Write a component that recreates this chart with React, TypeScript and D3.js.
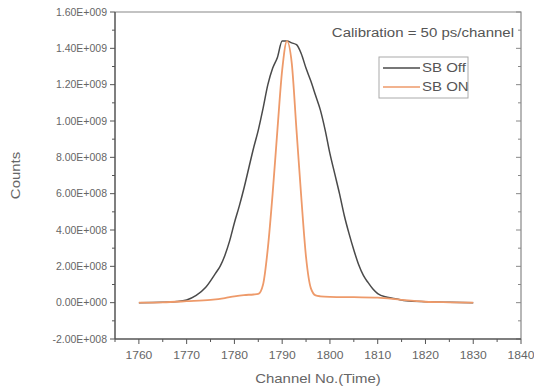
import { useEffect, useRef } from "react";
import * as d3 from "d3";

// SB Off (wide peak)
const offChannels = [1760, 1765, 1768, 1770, 1772, 1774, 1776, 1777, 1778, 1779, 1780, 1781, 1782, 1783, 1784, 1785, 1786, 1787, 1788, 1789, 1790, 1791, 1792, 1793, 1794, 1795, 1796, 1797, 1798, 1799, 1800, 1801, 1802, 1803, 1804, 1805, 1806, 1807, 1808, 1809, 1810, 1812, 1814, 1816, 1820, 1825, 1830];
const offCounts = [0, 2e6, 6e6, 1.5e7, 4e7, 8.5e7, 1.6e8, 2e8, 2.6e8, 3.4e8, 4.4e8, 5.3e8, 6.3e8, 7.4e8, 8.5e8, 9.5e8, 1.07e9, 1.2e9, 1.29e9, 1.35e9, 1.44e9, 1.44e9, 1.43e9, 1.42e9, 1.37e9, 1.29e9, 1.22e9, 1.14e9, 1.06e9, 9.5e8, 8.2e8, 7.1e8, 6e8, 4.8e8, 3.8e8, 2.9e8, 2.1e8, 1.5e8, 1.1e8, 7.5e7, 5e7, 3e7, 2e7, 1e7, 5e6, 2e6, 0];

// SB ON (narrow peak)
const onChannels = [1760, 1765, 1770, 1775, 1778, 1780, 1782, 1784, 1785, 1786, 1787, 1788, 1789, 1790, 1791, 1792, 1793, 1794, 1795, 1796, 1797, 1798, 1800, 1805, 1810, 1815, 1820, 1825, 1830];
const onCounts = [0, 2e6, 8e6, 1.5e7, 2.5e7, 3.5e7, 4.2e7, 4.5e7, 4.8e7, 1e8, 3e8, 6e8, 9.5e8, 1.28e9, 1.44e9, 1.32e9, 9.5e8, 5.8e8, 2.5e8, 8e7, 4e7, 3.5e7, 3.2e7, 3e7, 2.8e7, 1.5e7, 5e6, 2e6, 0];

const xTicks = [1760, 1770, 1780, 1790, 1800, 1810, 1820, 1830, 1840];
const yTicks = [-2e8, 0, 2e8, 4e8, 6e8, 8e8, 1e9, 1.2e9, 1.4e9, 1.6e9];

const seriesNames = ["SB Off", "SB ON"];
const seriesColors = ["#4a4a4a", "#ee9a6a"];

const FONT = "Arial, 'Liberation Sans', sans-serif";

const fmtY = (v: number) => {
  if (v === 0) return "0.00E+000";
  const sign = v < 0 ? "-" : "";
  const a = Math.abs(v);
  const e = Math.floor(Math.log10(a));
  const m = a / Math.pow(10, e);
  return `${sign}${m.toFixed(2)}E+${String(e).padStart(3, "0")}`;
};

const App = () => {
  const svgRef = useRef<SVGSVGElement>(null);

  useEffect(() => {
    const svg = d3.select(svgRef.current);
    svg.selectAll("*").remove();

    const margin = { top: 12, right: 13, bottom: 53, left: 115 };
    const W = 534, H = 392;
    const width = W - margin.left - margin.right;
    const height = H - margin.top - margin.bottom;

    const x = d3.scaleLinear().domain([1755, 1840]).range([0, width]);
    const y = d3.scaleLinear().domain([-2e8, 1.6e9]).range([height, 0]);

    const g = svg.append("g").attr("transform", `translate(${margin.left},${margin.top})`);
    const axisColor = "#555";
    const textColor = "#666";

    // frame top/right
    g.append("path")
      .attr("d", `M0,0H${width}V${height}`)
      .attr("fill", "none")
      .attr("stroke", "#888")
      .attr("stroke-width", 1.2);

    // right axis ticks (inside)
    const rightTicks = d3.range(-2e8, 1.6e9 + 1, 1e8);
    g.selectAll(".rtick")
      .data(rightTicks)
      .enter()
      .append("line")
      .attr("x1", width)
      .attr("x2", (d, i) => width - (i % 2 === 0 ? 5 : 3))
      .attr("y1", (d) => y(d))
      .attr("y2", (d) => y(d))
      .attr("stroke", "#888");

    // bottom axis
    const xAxis = g.append("g").attr("transform", `translate(0,${height})`);
    xAxis.append("line").attr("x1", 0).attr("x2", width).attr("stroke", axisColor).attr("stroke-width", 1.5);
    const xMinor = d3.range(1755, 1841, 5);
    xAxis.selectAll(".xm")
      .data(xMinor)
      .enter()
      .append("line")
      .attr("x1", (d) => x(d))
      .attr("x2", (d) => x(d))
      .attr("y1", 0)
      .attr("y2", (d) => (d % 10 === 0 ? 5 : 3))
      .attr("stroke", axisColor);
    xAxis.selectAll(".xl")
      .data(xTicks)
      .enter()
      .append("text")
      .attr("transform", (d) => `translate(${x(d)},20) scale(1.1,1)`)
      .attr("text-anchor", "middle")
      .attr("fill", textColor)
      .style("font-family", FONT)
      .style("font-size", "11px")
      .text((d) => d);

    // left axis
    const yAxis = g.append("g");
    yAxis.append("line").attr("y1", 0).attr("y2", height).attr("stroke", axisColor).attr("stroke-width", 1.5);
    const yMinor = d3.range(-2e8, 1.6e9 + 1, 1e8);
    yAxis.selectAll(".ym")
      .data(yMinor)
      .enter()
      .append("line")
      .attr("x1", (d, i) => (i % 2 === 0 ? -5 : -3))
      .attr("x2", 0)
      .attr("y1", (d) => y(d))
      .attr("y2", (d) => y(d))
      .attr("stroke", axisColor);
    yAxis.selectAll(".yl")
      .data(yTicks)
      .enter()
      .append("text")
      .attr("x", -8)
      .attr("y", (d) => y(d))
      .attr("dy", "0.35em")
      .attr("text-anchor", "end")
      .attr("fill", textColor)
      .style("font-family", FONT)
      .style("font-size", "10.5px")
      .text((d) => fmtY(d));

    // axis titles
    svg.append("text")
      .attr("transform", `translate(${margin.left + width / 2},383) scale(1.15,1)`)
      .attr("text-anchor", "middle")
      .attr("fill", textColor)
      .style("font-family", FONT)
      .style("font-size", "13px")
      .text("Channel No.(Time)");
    svg.append("text")
      .attr("transform", `translate(20,${margin.top + height / 2}) rotate(-90) scale(1.15,1)`)
      .attr("text-anchor", "middle")
      .attr("fill", textColor)
      .style("font-family", FONT)
      .style("font-size", "13px")
      .text("Counts");

    // lines
    const line = d3.line<[number, number]>()
      .x((d) => x(d[0]))
      .y((d) => y(d[1]))
      .curve(d3.curveMonotoneX);

    const offData = offChannels.map((c, i) => [c, offCounts[i]] as [number, number]);
    const onData = onChannels.map((c, i) => [c, onCounts[i]] as [number, number]);

    g.append("path")
      .attr("d", line(offData))
      .attr("fill", "none")
      .attr("stroke", seriesColors[0])
      .attr("stroke-width", 1.5);
    g.append("path")
      .attr("d", line(onData))
      .attr("fill", "none")
      .attr("stroke", seriesColors[1])
      .attr("stroke-width", 1.8);

    // annotation
    svg.append("text")
      .attr("transform", "translate(514,37) scale(1.25,1)")
      .attr("text-anchor", "end")
      .attr("fill", "#555")
      .style("font-family", FONT)
      .style("font-size", "12px")
      .text("Calibration = 50 ps/channel");

    // legend
    const legend = svg.append("g").attr("transform", "translate(379,57)");
    legend.append("rect")
      .attr("width", 89)
      .attr("height", 41)
      .attr("fill", "white")
      .attr("stroke", "#aaa");
    seriesNames.forEach((name, i) => {
      const ly = 11 + i * 19;
      legend.append("line")
        .attr("x1", 4)
        .attr("x2", 41)
        .attr("y1", ly)
        .attr("y2", ly)
        .attr("stroke", seriesColors[i])
        .attr("stroke-width", 1.5);
      legend.append("text")
        .attr("transform", `translate(43,${ly + 4}) scale(1.25,1)`)
        .attr("fill", "#555")
        .style("font-family", FONT)
        .style("font-size", "12px")
        .text(name);
    });
  }, []);

  return (
    <svg
      ref={svgRef}
      width={534}
      height={392}
      style={{ position: "absolute", left: 0, top: 0, background: "white" }}
    />
  );
};

export default App;
